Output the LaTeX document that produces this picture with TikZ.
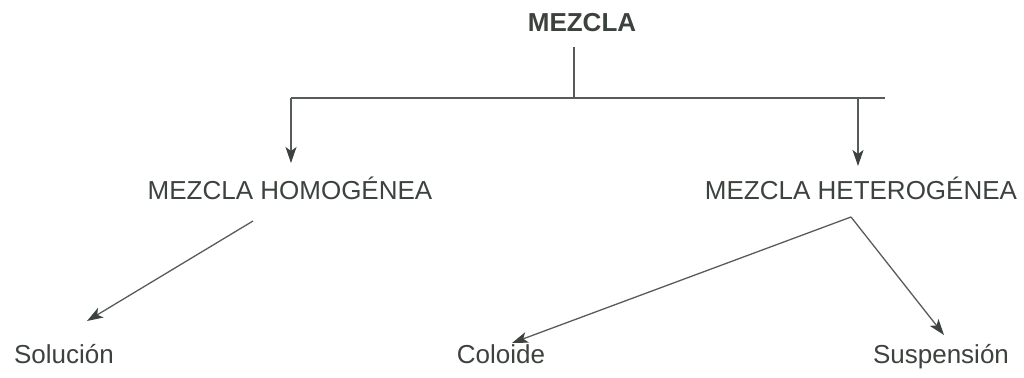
\documentclass[tikz,border=0pt]{standalone}
\usepackage{fontspec}
\setmainfont{Liberation Sans}
\usetikzlibrary{arrows.meta}
\definecolor{ink}{HTML}{3C423D}
\definecolor{wire}{HTML}{585C59}
\tikzset{
  label/.style={text=ink, inner sep=0pt, anchor=base, font=\fontsize{26}{30}\selectfont},
  head/.style={label, font=\fontsize{26}{30}\selectfont\bfseries},
  link/.style={draw=wire, line width=1.3pt},
  arrow/.style={link, -{Stealth[length=16pt,width=11pt,inset=4pt,color=ink]}}
}
\begin{document}
\begin{tikzpicture}[x=1pt,y=-1pt]
\useasboundingbox (0,0) rectangle (1024,377);
% texts, placed on their baselines
\node[head]  (mez)  at (582,32)  {MEZCLA};
\node[label] (homo) at (290,199) {MEZCLA HOMOGÉNEA};
\node[label] (hete) at (861,199) {MEZCLA HETEROGÉNEA};
\node[label] (sol)  at (64,363)  {Solución};
\node[label] (col)  at (501,363) {Coloide};
\node[label] (sus)  at (941,363) {Suspensión};
% branch points
\coordinate (stem)  at (574,47);
\coordinate (bus)   at (574,98);
\coordinate (busL)  at (291,98);
\coordinate (busR)  at (885,98);
\coordinate (dropR) at (858,98);
\coordinate (tipL)  at (291,163);
\coordinate (tipR)  at (858,166);
\coordinate (homoF) at (253,221);
\coordinate (tipS)  at (87,321);
\coordinate (apex)  at (851,217);
\coordinate (tipC)  at (512,343);
\coordinate (tipU)  at (944,335);
% tree
\draw[link] (stem) -- (bus);
\draw[link] (busL) -- (busR);
\draw[arrow] (busL) -- (tipL);
\draw[arrow] (dropR) -- (tipR);
\draw[arrow] (homoF) -- (tipS);
\draw[arrow] (apex) -- (tipC);
\draw[arrow] (apex) -- (tipU);
\end{tikzpicture}
\end{document}
